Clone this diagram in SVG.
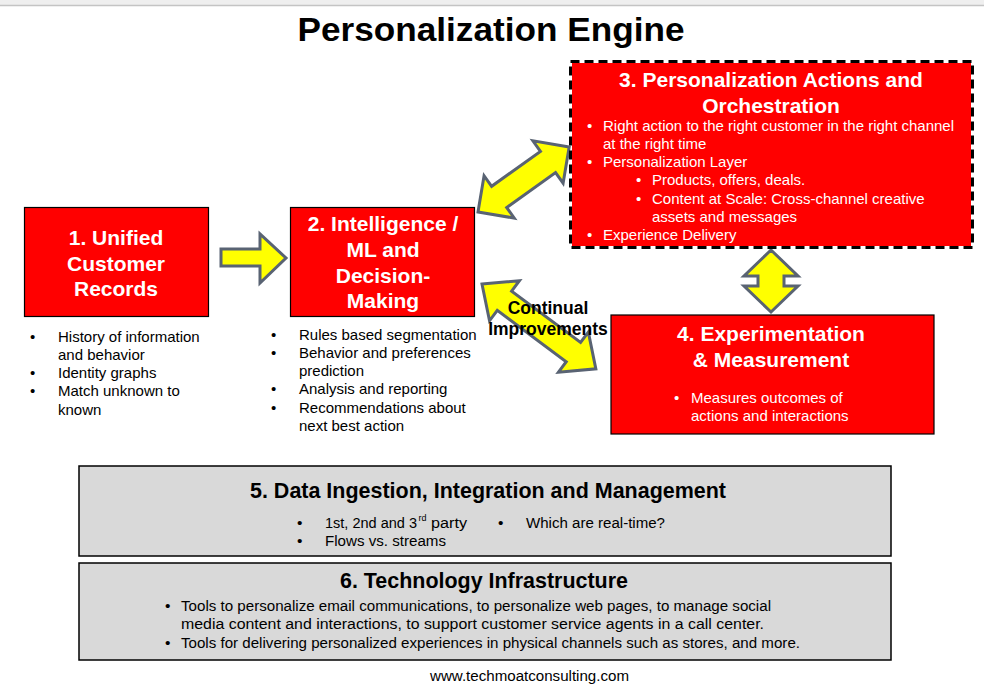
<svg xmlns="http://www.w3.org/2000/svg" width="984" height="688" viewBox="0 0 984 688">
<style>
.red{fill:#ff0000;stroke:#000;stroke-width:1.2}
.gray{fill:#d9d9d9;stroke:#000;stroke-width:1.5}
.arrow{fill:#ffff00;stroke:#596373;stroke-width:3;stroke-linejoin:miter}
.ht{font-family:"Liberation Sans",Arial,sans-serif;font-weight:bold;font-size:21px;fill:#fff;text-anchor:middle}
.wt{font-family:"Liberation Sans",Arial,sans-serif;font-size:15px;fill:#fff}
.bt{font-family:"Liberation Sans",Arial,sans-serif;font-size:15px;fill:#000}
.nt{font-family:"Liberation Sans Narrow","Liberation Sans",Arial,sans-serif;font-size:15.5px;fill:#000}
.nh{font-family:"Liberation Sans Narrow","Liberation Sans",Arial,sans-serif;font-weight:bold;font-size:22px;fill:#000;text-anchor:middle}
</style>
<rect x="0" y="0" width="984" height="688" fill="#fff"/>
<rect x="0" y="0" width="984" height="5" fill="#efefef"/>
<line x1="0" y1="5.5" x2="984" y2="5.5" stroke="#c4c4c4" stroke-width="1.5"/>
<text x="491" y="41" font-family="Liberation Sans Narrow,Liberation Sans,Arial,sans-serif" font-weight="bold" font-size="34" text-anchor="middle" textLength="387" lengthAdjust="spacingAndGlyphs">Personalization Engine</text>

<g id="connectors">
<polygon class="arrow" points="221,249 260,249 260,234 286,258 260,283 260,266 221,266"/>
<polygon class="arrow" transform="translate(478,212) rotate(-35.5)" points="0,0 26,-26 26,-13 86,-13 86,-26 112,0 86,26 86,13 26,13 26,26"/>
<polygon class="arrow" transform="translate(482,284) rotate(36.7)" points="0,0 28,-25 28,-12 114,-12 114,-25 142,0 114,25 114,12 28,12 28,25"/>
<polygon class="arrow" transform="translate(771,250) rotate(90)" points="0,0 26,-27 26,-13 36,-13 36,-27 62,0 36,27 36,13 26,13 26,27"/>
<text font-family="Liberation Sans,Arial,sans-serif" font-weight="bold" font-size="17.5" text-anchor="middle"><tspan x="548" y="314">Continual</tspan><tspan x="548" y="335">Improvements</tspan></text>
</g>

<g id="node1">
<rect class="red" x="24.5" y="207.5" width="184" height="109"/>
<text class="ht"><tspan x="116" y="245">1. Unified</tspan><tspan x="116" y="271">Customer</tspan><tspan x="116" y="296">Records</tspan></text>
<text class="bt"><tspan x="30" y="342">•</tspan><tspan x="58" y="342">History of information</tspan><tspan x="58" y="360">and behavior</tspan><tspan x="30" y="378">•</tspan><tspan x="58" y="378">Identity graphs</tspan><tspan x="30" y="396">•</tspan><tspan x="58" y="396">Match unknown to</tspan><tspan x="58" y="415">known</tspan></text>
</g>

<g id="node2">
<rect class="red" x="290.5" y="207.5" width="184" height="109"/>
<text class="ht"><tspan x="383" y="231">2. Intelligence /</tspan><tspan x="383" y="257">ML and</tspan><tspan x="383" y="283">Decision-</tspan><tspan x="383" y="308">Making</tspan></text>
<text class="bt"><tspan x="271" y="340">•</tspan><tspan x="299" y="340">Rules based segmentation</tspan><tspan x="271" y="358">•</tspan><tspan x="299" y="358">Behavior and preferences</tspan><tspan x="299" y="376">prediction</tspan><tspan x="271" y="394">•</tspan><tspan x="299" y="394">Analysis and reporting</tspan><tspan x="271" y="413">•</tspan><tspan x="299" y="413">Recommendations about</tspan><tspan x="299" y="431">next best action</tspan></text>
</g>

<g id="node3">
<rect x="572" y="63" width="399" height="183" fill="#ff0000"/>
<rect x="570.5" y="61.5" width="402" height="186" fill="none" stroke="#000" stroke-width="3" stroke-dasharray="9,5"/>
<text class="ht"><tspan x="771" y="87">3. Personalization Actions and</tspan><tspan x="771" y="113">Orchestration</tspan></text>
<text class="wt"><tspan x="587" y="131">•</tspan><tspan x="603" y="131">Right action to the right customer in the right channel</tspan><tspan x="603" y="149">at the right time</tspan><tspan x="587" y="167">•</tspan><tspan x="603" y="167">Personalization Layer</tspan><tspan x="636" y="185">•</tspan><tspan x="652" y="185">Products, offers, deals.</tspan><tspan x="636" y="204">•</tspan><tspan x="652" y="204">Content at Scale: Cross-channel creative</tspan><tspan x="652" y="222">assets and messages</tspan><tspan x="587" y="240">•</tspan><tspan x="603" y="240">Experience Delivery</tspan></text>
</g>

<g id="node4">
<rect class="red" x="611" y="315" width="323" height="119"/>
<text class="ht"><tspan x="771" y="341">4. Experimentation</tspan><tspan x="771" y="367">&amp; Measurement</tspan></text>
<text class="wt"><tspan x="674" y="403">•</tspan><tspan x="691" y="403">Measures outcomes of</tspan><tspan x="691" y="421">actions and interactions</tspan></text>
</g>

<g id="node5">
<rect class="gray" x="79" y="466" width="812" height="90"/>
<text class="nh" x="488" y="498" textLength="476" lengthAdjust="spacingAndGlyphs">5. Data Ingestion, Integration and Management</text>
<text class="nt" x="297" y="528">•</text>
<text class="nt" x="325" y="528" textLength="92" lengthAdjust="spacingAndGlyphs">1st, 2nd and 3</text>
<text class="nt" x="418.5" y="521" style="font-size:9px">rd</text>
<text class="nt" x="431" y="528" textLength="36" lengthAdjust="spacingAndGlyphs">party</text>
<text class="nt" x="297" y="546">•</text>
<text class="nt" x="325" y="546" textLength="121" lengthAdjust="spacingAndGlyphs">Flows vs. streams</text>
<text class="nt" x="498" y="528">•</text>
<text class="nt" x="526" y="528" textLength="139" lengthAdjust="spacingAndGlyphs">Which are real-time?</text>
</g>

<g id="node6">
<rect class="gray" x="79" y="563" width="812" height="97"/>
<text class="nh" x="484" y="588" textLength="288" lengthAdjust="spacingAndGlyphs">6. Technology Infrastructure</text>
<text class="nt" x="165" y="611">•</text>
<text class="nt" x="181" y="611" textLength="590" lengthAdjust="spacingAndGlyphs">Tools to personalize email communications, to personalize web pages, to manage social</text>
<text class="nt" x="181" y="629" textLength="583" lengthAdjust="spacingAndGlyphs">media content and interactions, to support customer service agents in a call center.</text>
<text class="nt" x="165" y="648">•</text>
<text class="nt" x="181" y="648" textLength="619" lengthAdjust="spacingAndGlyphs">Tools for delivering personalized experiences in physical channels such as stores, and more.</text>
</g>

<text class="nt" x="430" y="681" textLength="199" lengthAdjust="spacingAndGlyphs">www.techmoatconsulting.com</text>
</svg>
